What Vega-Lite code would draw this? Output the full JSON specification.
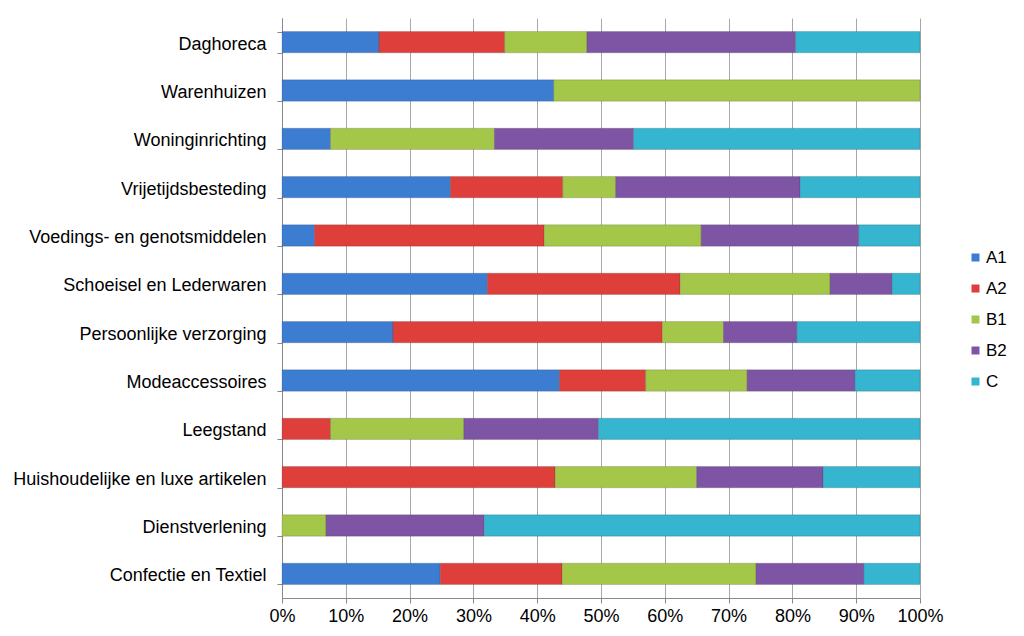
{
  "$schema": "https://vega.github.io/schema/vega-lite/v6.json",
  "width": 638,
  "height": 580,
  "autosize": "none",
  "padding": {"left": 282, "top": 18, "right": 104, "bottom": 38},
  "background": "white",
  "config": {
    "view": {"stroke": null},
    "font": "Liberation Sans",
    "axis": {"labelFont": "Liberation Sans", "labelFontSize": 18, "labelColor": "#000000"}
  },
  "data": {
    "values": [
      {"cat": "Daghoreca", "klasse": "A1", "v": 15.2},
      {"cat": "Daghoreca", "klasse": "A2", "v": 19.7},
      {"cat": "Daghoreca", "klasse": "B1", "v": 12.9},
      {"cat": "Daghoreca", "klasse": "B2", "v": 32.7},
      {"cat": "Daghoreca", "klasse": "C", "v": 19.5},
      {"cat": "Warenhuizen", "klasse": "A1", "v": 42.6},
      {"cat": "Warenhuizen", "klasse": "B1", "v": 57.4},
      {"cat": "Woninginrichting", "klasse": "A1", "v": 7.6},
      {"cat": "Woninginrichting", "klasse": "B1", "v": 25.7},
      {"cat": "Woninginrichting", "klasse": "B2", "v": 21.8},
      {"cat": "Woninginrichting", "klasse": "C", "v": 44.9},
      {"cat": "Vrijetijdsbesteding", "klasse": "A1", "v": 26.4},
      {"cat": "Vrijetijdsbesteding", "klasse": "A2", "v": 17.6},
      {"cat": "Vrijetijdsbesteding", "klasse": "B1", "v": 8.3},
      {"cat": "Vrijetijdsbesteding", "klasse": "B2", "v": 28.9},
      {"cat": "Vrijetijdsbesteding", "klasse": "C", "v": 18.8},
      {"cat": "Voedings- en genotsmiddelen", "klasse": "A1", "v": 5.1},
      {"cat": "Voedings- en genotsmiddelen", "klasse": "A2", "v": 36.0},
      {"cat": "Voedings- en genotsmiddelen", "klasse": "B1", "v": 24.6},
      {"cat": "Voedings- en genotsmiddelen", "klasse": "B2", "v": 24.7},
      {"cat": "Voedings- en genotsmiddelen", "klasse": "C", "v": 9.6},
      {"cat": "Schoeisel en Lederwaren", "klasse": "A1", "v": 32.2},
      {"cat": "Schoeisel en Lederwaren", "klasse": "A2", "v": 30.2},
      {"cat": "Schoeisel en Lederwaren", "klasse": "B1", "v": 23.5},
      {"cat": "Schoeisel en Lederwaren", "klasse": "B2", "v": 9.7},
      {"cat": "Schoeisel en Lederwaren", "klasse": "C", "v": 4.4},
      {"cat": "Persoonlijke verzorging", "klasse": "A1", "v": 17.4},
      {"cat": "Persoonlijke verzorging", "klasse": "A2", "v": 42.2},
      {"cat": "Persoonlijke verzorging", "klasse": "B1", "v": 9.6},
      {"cat": "Persoonlijke verzorging", "klasse": "B2", "v": 11.5},
      {"cat": "Persoonlijke verzorging", "klasse": "C", "v": 19.3},
      {"cat": "Modeaccessoires", "klasse": "A1", "v": 43.5},
      {"cat": "Modeaccessoires", "klasse": "A2", "v": 13.5},
      {"cat": "Modeaccessoires", "klasse": "B1", "v": 15.9},
      {"cat": "Modeaccessoires", "klasse": "B2", "v": 16.9},
      {"cat": "Modeaccessoires", "klasse": "C", "v": 10.2},
      {"cat": "Leegstand", "klasse": "A2", "v": 7.6},
      {"cat": "Leegstand", "klasse": "B1", "v": 20.9},
      {"cat": "Leegstand", "klasse": "B2", "v": 21.1},
      {"cat": "Leegstand", "klasse": "C", "v": 50.4},
      {"cat": "Huishoudelijke en luxe artikelen", "klasse": "A2", "v": 42.8},
      {"cat": "Huishoudelijke en luxe artikelen", "klasse": "B1", "v": 22.2},
      {"cat": "Huishoudelijke en luxe artikelen", "klasse": "B2", "v": 19.8},
      {"cat": "Huishoudelijke en luxe artikelen", "klasse": "C", "v": 15.2},
      {"cat": "Dienstverlening", "klasse": "B1", "v": 6.9},
      {"cat": "Dienstverlening", "klasse": "B2", "v": 24.8},
      {"cat": "Dienstverlening", "klasse": "C", "v": 68.3},
      {"cat": "Confectie en Textiel", "klasse": "A1", "v": 24.8},
      {"cat": "Confectie en Textiel", "klasse": "A2", "v": 19.1},
      {"cat": "Confectie en Textiel", "klasse": "B1", "v": 30.4},
      {"cat": "Confectie en Textiel", "klasse": "B2", "v": 16.9},
      {"cat": "Confectie en Textiel", "klasse": "C", "v": 8.8}
    ]
  },
  "mark": {"type": "bar", "stroke": "#33333355", "strokeWidth": 0.6},
  "encoding": {
    "y": {
      "field": "cat",
      "type": "nominal",
      "title": null,
      "sort": ["Daghoreca", "Warenhuizen", "Woninginrichting", "Vrijetijdsbesteding", "Voedings- en genotsmiddelen", "Schoeisel en Lederwaren", "Persoonlijke verzorging", "Modeaccessoires", "Leegstand", "Huishoudelijke en luxe artikelen", "Dienstverlening", "Confectie en Textiel"],
      "scale": {"paddingInner": 0.56, "paddingOuter": 0.28},
      "axis": {
        "domainColor": "#888888",
        "tickColor": "#888888",
        "tickSize": 5,
        "tickBand": "extent",
        "labelPadding": 11,
        "labelOffset": 2,
        "labelLimit": 400,
        "grid": false
      }
    },
    "x": {
      "field": "v",
      "type": "quantitative",
      "stack": "normalize",
      "title": null,
      "scale": {"domain": [0, 1], "nice": false},
      "axis": {
        "format": ".0%",
        "values": [0, 0.1, 0.2, 0.3, 0.4, 0.5, 0.6, 0.7, 0.8, 0.9, 1],
        "labelFlush": false,
        "grid": true,
        "gridColor": "#a8a8a8",
        "domainColor": "#888888",
        "tickColor": "#888888",
        "tickSize": 5,
        "labelPadding": 4
      }
    },
    "color": {
      "field": "klasse",
      "type": "nominal",
      "scale": {
        "domain": ["A1", "A2", "B1", "B2", "C"],
        "range": ["#3C7DD2", "#DE3F3A", "#A4C74A", "#7E55A5", "#35B5CF"]
      },
      "legend": {
        "title": null,
        "orient": "none",
        "legendX": 685,
        "legendY": 231,
        "padding": 0,
        "symbolType": "square",
        "symbolSize": 64,
        "symbolStrokeWidth": 0,
        "labelFont": "Liberation Sans",
        "labelFontSize": 17,
        "labelColor": "#000000",
        "labelOffset": 2,
        "rowPadding": 13
      }
    },
    "order": {"field": "klasse", "sort": "ascending"}
  }
}
